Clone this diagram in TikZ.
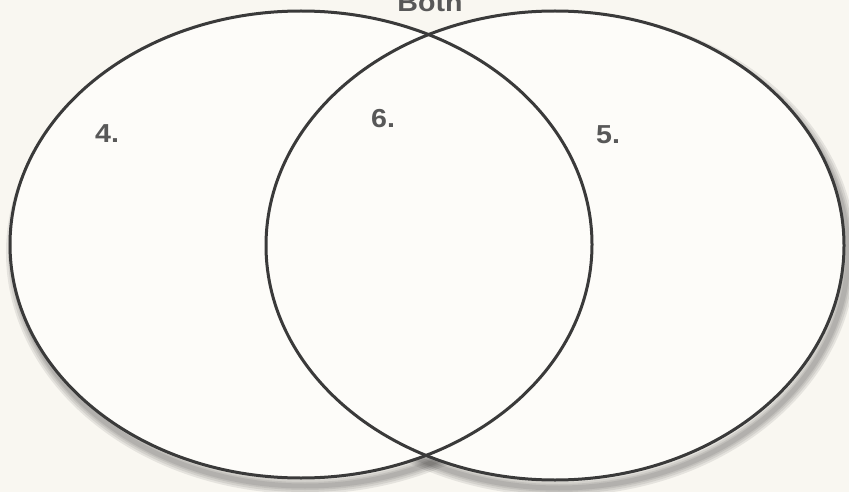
\documentclass[tikz,border=0pt]{standalone}
\usepackage{fontspec}
\setmainfont{Liberation Sans}
\definecolor{paper}{RGB}{249,247,241}
\definecolor{ink}{RGB}{58,58,58}
\definecolor{labelgray}{RGB}{88,88,88}
\begin{document}
\begin{tikzpicture}[x=1pt,y=-1pt,
  outline/.style={draw=ink,line width=3pt},
  shadowring/.style={draw=black,opacity=0.08},
  lbl/.style={text=labelgray,font=\bfseries\fontsize{26}{30}\selectfont,inner sep=0pt,xscale=1.1}]
\useasboundingbox (0,0) rectangle (849,492);
\fill[paper] (0,0) rectangle (849,492);
% soft shadow below / right
\begin{scope}[shift={(4,8)}]
  \foreach \w in {16,12,8,5}{
    \draw[shadowring,line width=\w pt] (301,244.5) ellipse [x radius=291pt, y radius=233.5pt];
    \draw[shadowring,line width=\w pt] (555,245.5) ellipse [x radius=289pt, y radius=234.5pt];
  }
\end{scope}
\fill[white!60!paper] (301,244.5) ellipse [x radius=291pt, y radius=233.5pt];
\fill[white!60!paper] (555,245.5) ellipse [x radius=289pt, y radius=234.5pt];
% circles
\draw[outline] (301,244.5) ellipse [x radius=291pt, y radius=233.5pt];
\draw[outline] (555,245.5) ellipse [x radius=289pt, y radius=234.5pt];
% labels
\node[lbl,anchor=base] (both) at (430,12) {Both};
\node[lbl,anchor=base west] (four) at (95,143) {4.};
\node[lbl,anchor=base west] (six) at (371,128) {6.};
\node[lbl,anchor=base west] (five) at (596,144) {5.};
\end{tikzpicture}
\end{document}
